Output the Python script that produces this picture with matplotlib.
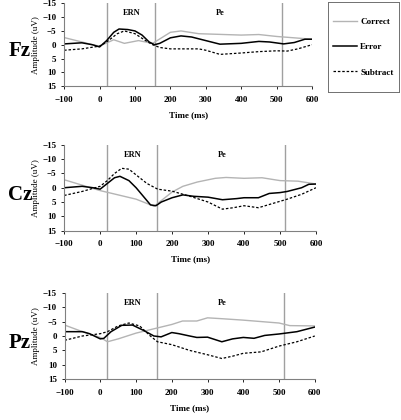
import matplotlib.pyplot as plt
import numpy as np
from matplotlib.lines import Line2D

plt.rcParams['font.family'] = ['Liberation Serif', 'DejaVu Serif']

# 時間 (ms) と各電極の波形 (uV)
fz_t = [-100, -50, -20, 0, 20, 40, 55, 80, 100, 120, 140, 155, 170, 200, 230, 260, 300, 340, 400, 450, 480, 520, 550, 580, 600]
fz_error = [-0.3, -0.7, 0.0, 0.8, -1.5, -4.5, -5.7, -5.5, -5.0, -3.5, -1.0, 0.0, -0.5, -2.5, -3.2, -2.8, -1.5, -0.2, -0.5, -1.2, -1.0, -0.3, -0.8, -2.0, -2.0]
fz_ct = [-100, -50, -20, 0, 40, 70, 110, 150, 200, 230, 280, 400, 450, 500, 550, 600]
fz_correct = [-2.6, -1.0, 0.0, 0.5, -1.8, -0.5, -1.5, -0.5, -4.5, -5.0, -4.0, -3.5, -3.7, -3.0, -2.5, -2.0]
fz_st = [-100, -50, 0, 20, 50, 70, 100, 130, 150, 170, 200, 250, 280, 300, 340, 400, 450, 500, 530, 560, 600]
fz_subtract = [2.0, 1.5, 0.5, -1.0, -4.0, -5.0, -4.0, -1.5, 0.0, 1.0, 1.5, 1.5, 1.5, 2.0, 3.5, 3.0, 2.5, 2.2, 2.3, 1.5, 0.0]

cz_ct = [-100, 0, 50, 100, 150, 170, 200, 230, 270, 320, 350, 400, 450, 500, 550, 600]
cz_correct = [-2.8, 1.0, 2.5, 4.0, 6.5, 4.5, 1.5, -0.5, -2.0, -3.3, -3.6, -3.3, -3.5, -2.5, -2.3, -1.3]
cz_t = [-100, -50, -20, 0, 20, 40, 55, 80, 100, 120, 140, 155, 170, 200, 230, 260, 300, 340, 380, 400, 440, 470, 500, 520, 560, 580, 600]
cz_error = [0.0, -0.5, 0.0, 0.5, -1.5, -3.5, -4.0, -2.5, 0.0, 3.0, 6.0, 6.3, 5.0, 3.5, 2.5, 3.0, 3.3, 4.2, 3.8, 3.5, 3.5, 2.0, 1.7, 1.3, 0.0, -1.2, -1.3]
cz_st = [-100, -50, 0, 20, 40, 60, 80, 100, 130, 160, 200, 250, 300, 340, 370, 400, 440, 480, 520, 560, 600]
cz_subtract = [2.7, 1.3, -0.5, -2.5, -5.0, -6.8, -6.5, -4.5, -1.5, 0.5, 1.2, 3.0, 5.0, 7.5, 7.0, 6.3, 7.0, 5.5, 4.0, 2.3, 0.0]

pz_ct = [-100, -50, 0, 20, 50, 100, 150, 200, 230, 270, 300, 340, 400, 450, 500, 530, 600]
pz_correct = [-3.8, -1.5, 0.5, 2.0, 1.0, -1.0, -2.5, -4.0, -5.2, -5.2, -6.3, -6.0, -5.5, -5.0, -4.5, -3.6, -3.5]
pz_t = [-100, -50, -30, 0, 10, 30, 60, 90, 120, 150, 170, 200, 220, 250, 270, 300, 340, 370, 400, 430, 460, 500, 550, 600]
pz_error = [-1.5, -1.5, -0.8, 1.0, 0.8, -1.5, -3.7, -3.8, -2.0, 0.0, 0.3, -1.2, -0.8, 0.0, 0.5, 0.4, 2.0, 1.0, 0.5, 0.8, -0.2, -0.7, -1.5, -3.1]
pz_st = [-100, -50, 0, 20, 50, 80, 110, 140, 160, 200, 250, 300, 340, 370, 400, 450, 500, 550, 600]
pz_subtract = [1.5, 0.0, -0.8, -1.5, -3.5, -4.5, -3.5, 0.0, 2.0, 3.0, 5.0, 6.5, 7.8, 7.0, 6.0, 5.5, 3.5, 2.0, 0.0]

markers = [20, 158, 515]  # 区間の境界 (ms)
xticks = [-100, 0, 100, 200, 300, 400, 500, 600]
yticks = [-15, -10, -5, 0, 5, 10, 15]

panels = [
    ("Fz", [0.160, 0.795, 0.618, 0.197], fz_ct, fz_correct, fz_t, fz_error, fz_st, fz_subtract),
    ("Cz", [0.160, 0.451, 0.628, 0.204], cz_ct, cz_correct, cz_t, cz_error, cz_st, cz_subtract),
    ("Pz", [0.161, 0.097, 0.624, 0.206], pz_ct, pz_correct, pz_t, pz_error, pz_st, pz_subtract),
]

fig = plt.figure(figsize=(4.01, 4.2), dpi=100)

for name, rect, ct, cv, et, ev, st, sv in panels:
    ax = fig.add_axes(rect)
    for m in markers:
        ax.axvline(m, color="#a0a0a0", lw=1.0)
    ax.plot(ct, cv, color="#b4b4b4", lw=1.0)
    ax.plot(et, ev, color="black", lw=1.1)
    ax.plot(st, sv, color="black", lw=0.9, ls=(0, (2, 1.5)))
    ax.set_xlim(-100, 600)
    ax.set_ylim(15, -15)
    ax.set_xticks(xticks)
    ax.set_yticks(yticks)
    ax.tick_params(labelsize=6.5, length=2, width=0.6)
    ax.tick_params(axis="x", pad=5)
    for lab in ax.get_xticklabels() + ax.get_yticklabels():
        lab.set_fontweight("bold")
    ax.spines["top"].set_visible(False)
    ax.spines["right"].set_visible(False)
    ax.spines["left"].set_color("#808080")
    ax.spines["bottom"].set_color("#808080")
    ax.set_xlabel("Time (ms)", fontsize=6.5, fontweight="bold", labelpad=5)
    ax.set_ylabel("Amplitude (uV)", fontsize=6.5, labelpad=2)
    ax.text(90, -11.5, "ERN", fontsize=6, fontweight="bold", ha="center", va="center")
    ax.text(340, -11.5, "Pe", fontsize=6, fontweight="bold", ha="center", va="center")
    bb = ax.get_position()
    fig.text(0.05, bb.y0 + bb.height * 0.42, name, fontsize=15, fontweight="bold", ha="center", va="center")

# 凡例 (枠付きの小さな領域)
lax = fig.add_axes([328 / 401, 1 - 92 / 420, 71 / 401, 90 / 420])
lax.set_xticks([])
lax.set_yticks([])
for s in lax.spines.values():
    s.set_color("#707070")
    s.set_linewidth(0.7)
handles = [
    Line2D([], [], color="#b4b4b4", lw=1.0),
    Line2D([], [], color="black", lw=1.1),
    Line2D([], [], color="black", lw=0.9, ls=(0, (2, 1.5))),
]
lax.legend(handles, ["Correct", "Error", "Subtract"], loc="center",
           prop={"size": 6.5, "weight": "bold"}, frameon=False,
           handlelength=2.6, labelspacing=1.9, handletextpad=0.4, borderaxespad=0)

fig.savefig("out.png", dpi=100)
